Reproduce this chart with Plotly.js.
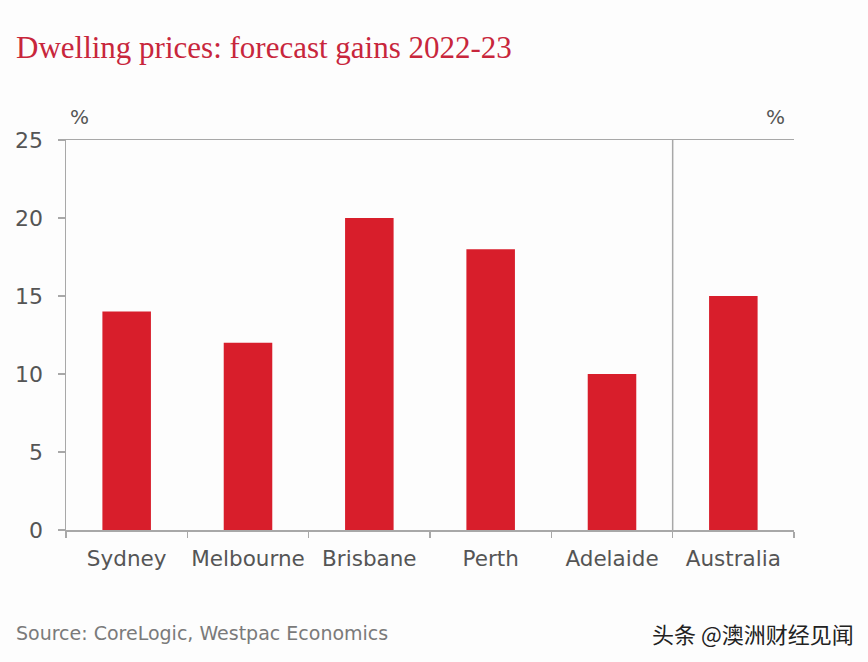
<!DOCTYPE html>
<html>
<head>
<meta charset="utf-8">
<script src="https://cdn.plot.ly/plotly-3.0.1.min.js"></script>
<style>html,body{margin:0;padding:0;background:#fff;}#chart{width:868px;height:662px;}</style>
</head>
<body>
<div id="chart"></div>
<script>
const categories = ["Sydney", "Melbourne", "Brisbane", "Perth", "Adelaide", "Australia"];
const gains = [14, 12, 20, 18, 10, 15];
const yTicks = [0, 5, 10, 15, 20, 25];

const titleText = "Dwelling prices: forecast gains 2022-23";
const sourceText = "Source: CoreLogic, Westpac Economics";
const watermarkText = "头条 @澳洲财经见闻";

const axisGray = "#a8a8a8";
const labelGray = "#555555";
const sans = "DejaVu Sans, sans-serif";

const data = [{
  type: "bar",
  x: categories,
  y: gains,
  marker: {color: "#d81e2b", line: {width: 0}},
  hoverinfo: "skip"
}];

const layout = {
  width: 868, height: 662,
  paper_bgcolor: "#fdfdfd", plot_bgcolor: "#fdfdfd",
  margin: {l: 66, r: 74, t: 140, b: 132},
  showlegend: false,
  bargap: 0.6,
  title: {
    text: titleText,
    x: 16 / 868, xanchor: "left", xref: "container",
    y: 0.929, yanchor: "middle", yref: "container",
    font: {family: "Liberation Serif, serif", size: 31, color: "#c8263c"}
  },
  xaxis: {
    type: "category",
    categoryorder: "array", categoryarray: categories,
    showline: true, linecolor: axisGray, linewidth: 1.5, mirror: true,
    ticks: "outside", tickson: "boundaries", ticklen: 6, tickcolor: axisGray, tickwidth: 1.5,
    tickangle: 0,
    ticklabelstandoff: 9,
    tickfont: {family: sans, size: 21.5, color: labelGray},
    showgrid: false, zeroline: false, fixedrange: true
  },
  yaxis: {
    range: [0, 25], tickvals: yTicks, ticktext: yTicks.map(String),
    showline: true, linecolor: axisGray, linewidth: 1.5,
    ticks: "outside", ticklen: 7, tickcolor: axisGray, tickwidth: 1.5,
    ticklabelstandoff: 10,
    tickfont: {family: sans, size: 22, color: labelGray},
    showgrid: false, zeroline: false, fixedrange: true
  },
  yaxis2: {
    overlaying: "y", side: "right", anchor: "x",
    range: [0, 25], tickvals: yTicks, ticktext: yTicks.map(String),
    showline: true, linecolor: axisGray, linewidth: 1.5,
    ticks: "outside", ticklen: 7, tickcolor: axisGray, tickwidth: 1.5,
    ticklabelstandoff: 14,
    tickfont: {family: sans, size: 22, color: labelGray},
    showgrid: false, zeroline: false, fixedrange: true
  },
  shapes: [{
    type: "line", xref: "x", yref: "paper",
    x0: 4.5, x1: 4.5, y0: 0, y1: 1,
    line: {color: axisGray, width: 1.5}
  }],
  annotations: [
    {text: "%", xref: "paper", yref: "paper", x: 0.019, y: 1.06, xanchor: "center", yanchor: "middle",
     showarrow: false, font: {family: sans, size: 20, color: labelGray}},
    {text: "%", xref: "paper", yref: "paper", x: 0.975, y: 1.06, xanchor: "center", yanchor: "middle",
     showarrow: false, font: {family: sans, size: 20, color: labelGray}},
    {text: sourceText, xref: "paper", yref: "paper", x: -0.072, y: -0.265, xanchor: "left", yanchor: "middle",
     showarrow: false, font: {family: sans, size: 19, color: "#7a7a7a"}},
    {text: watermarkText, xref: "paper", yref: "paper", x: 1.085, y: -0.265, xanchor: "right", yanchor: "middle",
     showarrow: false, font: {family: "Noto Sans CJK SC, sans-serif", size: 22, color: "#222222"}}
  ]
};

Plotly.newPlot("chart", data, layout, {displayModeBar: false, staticPlot: true});
</script>
</body>
</html>
